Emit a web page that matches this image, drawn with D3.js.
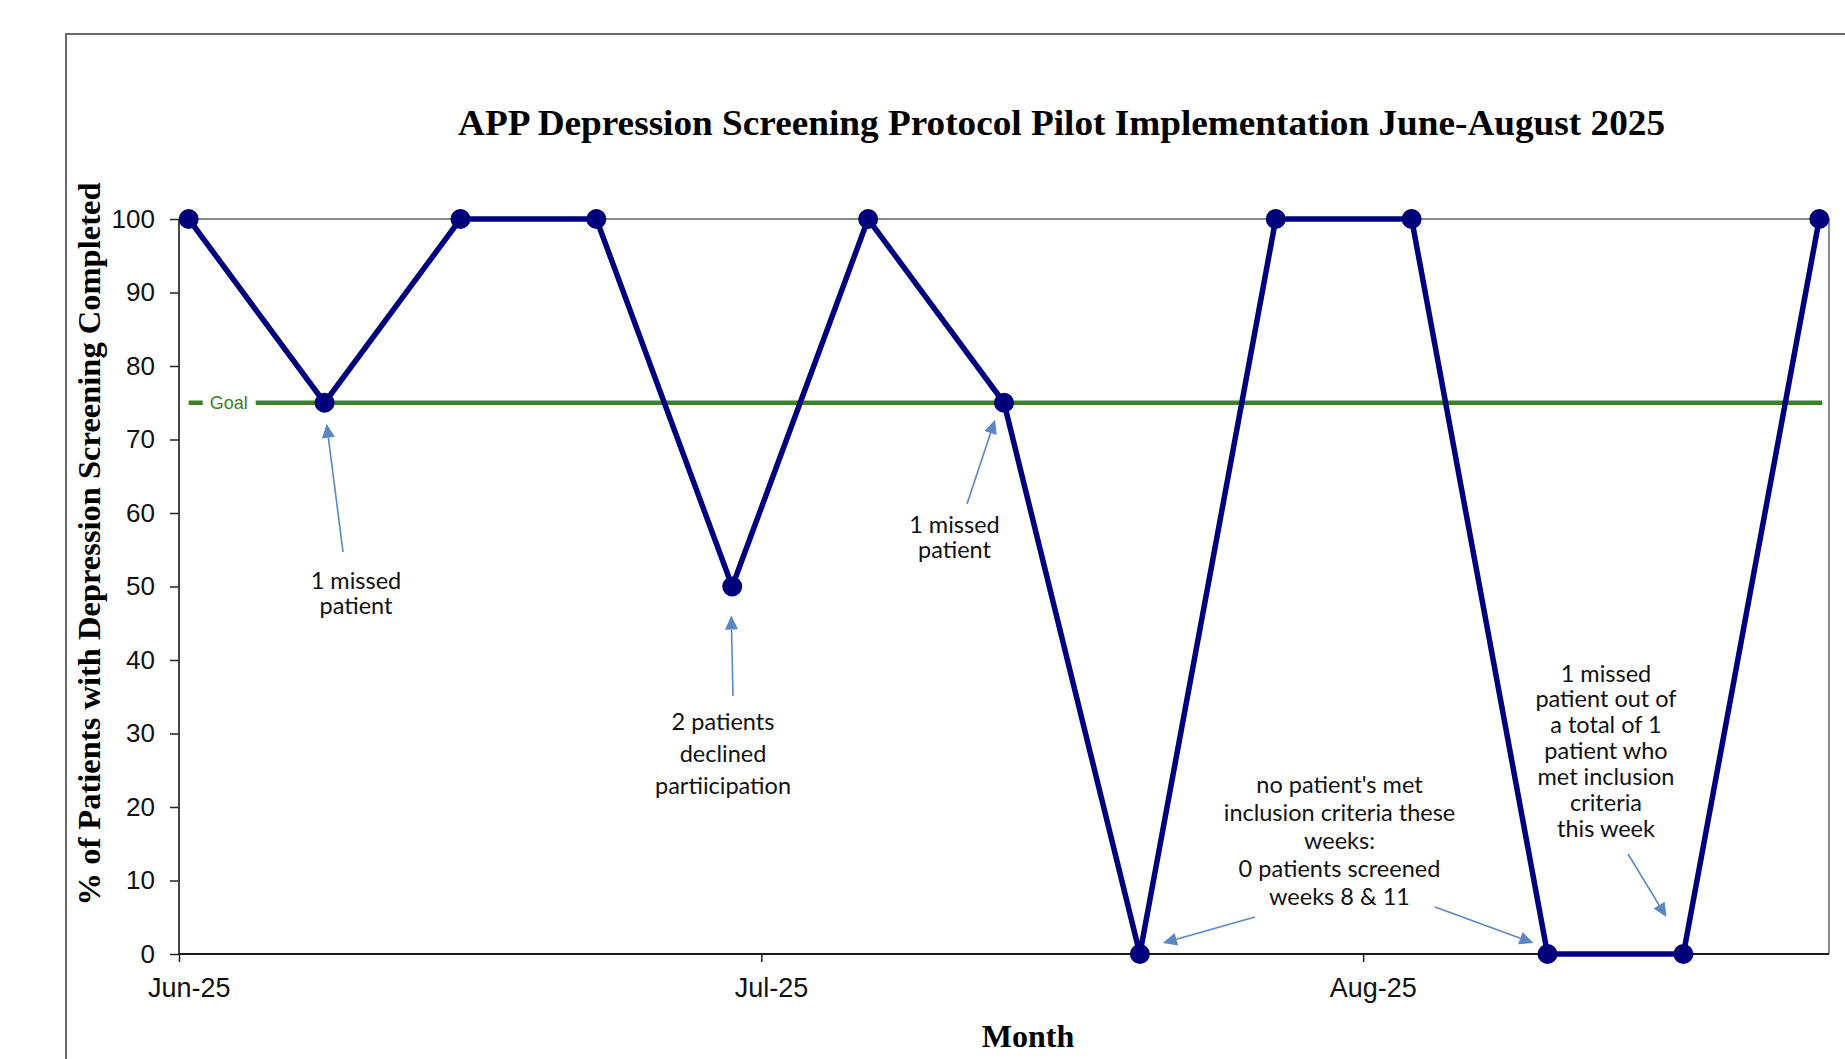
<!DOCTYPE html>
<html>
<head>
<meta charset="utf-8">
<script src="https://cdn.jsdelivr.net/npm/d3@7"></script>
<style>
  html, body { margin: 0; padding: 0; background: #fff; }
  svg { display: block; }
</style>
</head>
<body>
<svg id="chart" width="1845" height="1059"></svg>
<script>
// Weekly depression screening completion, APP pilot, June–August 2025
const weekStarts = [
  "2025-06-01", "2025-06-08", "2025-06-15", "2025-06-22", "2025-06-29",
  "2025-07-06", "2025-07-13", "2025-07-20", "2025-07-27",
  "2025-08-03", "2025-08-10", "2025-08-17", "2025-08-24"
];
const pctScreened = [100, 75, 100, 100, 50, 100, 75, 0, 100, 100, 0, 0, 100];
const goalPct = 75;
const yTickValues = [0, 10, 20, 30, 40, 50, 60, 70, 80, 90, 100];
const monthStarts = ["2025-06-01", "2025-07-01", "2025-08-01"];
const monthLabels = ["Jun-25", "Jul-25", "Aug-25"];

// Callout texts and the weeks they point at
const noteLines = [
  ["1 missed", "patient"],
  ["2 patients", "declined", "partiicipation"],
  ["1 missed", "patient"],
  ["no patient's met", "inclusion criteria these", "weeks:", "0 patients screened", "weeks 8 & 11"],
  ["1 missed", "patient out of", "a total of 1", "patient who", "met inclusion", "criteria", "this week"]
];
const noteTargets = [[1], [4], [6], [7, 10], [11]];

// Callout placement (pixels): text centre, first baseline, line step, arrow tails and tip offsets
const noteLayout = [
  { x: 356, y: 589, step: 24.5, tails: [[343, 552]], tips: [[2, 21]] },
  { x: 723, y: 730, step: 32, tails: [[733, 696]], tips: [[-1, 29]] },
  { x: 954.5, y: 533, step: 24.5, tails: [[967, 504]], tips: [[-9, 17]] },
  { x: 1339.5, y: 793, step: 28, tails: [[1255, 917], [1435, 907]], tips: [[23, -11], [-14, -11]] },
  { x: 1606, y: 681.5, step: 25.9, tails: [[1628, 854]], tips: [[-17, -37]] }
];

const svg = d3.select("#chart");
const parse = d3.utcParse("%Y-%m-%d");
const dayMs = 864e5;
const plot = { left: 179, right: 1829, top: 219, bottom: 954 };

const x = d3.scaleUtc()
  .domain([parse("2025-06-01"), parse("2025-08-25")])
  .range([plot.left, plot.right]);
const y = d3.scaleLinear().domain([0, 100]).range([plot.bottom, plot.top]);

// Each week's value sits in the middle of its day slot
const pts = weekStarts.map((d, i) => ({
  date: new Date(parse(d).getTime() + dayMs / 2),
  v: pctScreened[i]
}));
const px = d => x(d.date);
const py = d => y(d.v);

// Outer chart frame
svg.append("rect")
  .attr("x", 66).attr("y", 34)
  .attr("width", 1900).attr("height", 1100)
  .attr("fill", "none").attr("stroke", "#6b6b6b").attr("stroke-width", 2);

// Plot-area border: top and right edges
svg.append("path")
  .attr("d", `M${plot.left},${y(100)}H${plot.right}V${plot.bottom}`)
  .attr("fill", "none").attr("stroke", "#8c8c8c").attr("stroke-width", 2);

// Goal line with inline label
const goalY = y(goalPct);
const goalX0 = px(pts[0]);
const goalX1 = px(pts[pts.length - 1]) + 3;
svg.append("line")
  .attr("x1", goalX0).attr("x2", goalX1)
  .attr("y1", goalY).attr("y2", goalY)
  .attr("stroke", "#3b8128").attr("stroke-width", 4.5);
svg.append("rect")
  .attr("x", goalX0 + 14).attr("y", goalY - 10)
  .attr("width", 53).attr("height", 20)
  .attr("fill", "#fff");
svg.append("text")
  .attr("x", goalX0 + 21).attr("y", goalY + 6.5)
  .attr("font-family", "'Liberation Sans', Arial, sans-serif")
  .attr("font-size", 18)
  .attr("fill", "#3b8128")
  .text("Goal");

// Axes
const yAxis = d3.axisLeft(y).tickValues(yTickValues).tickSize(9).tickPadding(15);
const gy = svg.append("g").attr("transform", `translate(${plot.left},0)`).call(yAxis);
gy.select(".domain").remove();
gy.selectAll(".tick line").attr("stroke", "#222").attr("stroke-width", 1.5);
gy.selectAll(".tick text")
  .attr("font-family", "'Liberation Sans', Arial, sans-serif")
  .attr("font-size", 26).attr("fill", "#111");

const halfDay = x(new Date(parse(monthStarts[0]).getTime() + dayMs / 2)) - x(parse(monthStarts[0]));
const xAxis = d3.axisBottom(x)
  .tickValues(monthStarts.map(parse))
  .tickSize(8)
  .tickFormat((d, i) => monthLabels[i]);
const gx = svg.append("g").attr("transform", `translate(0,${plot.bottom})`).call(xAxis);
gx.select(".domain").remove();
gx.selectAll(".tick line").attr("stroke", "#222").attr("stroke-width", 1.5);
gx.selectAll(".tick text")
  .attr("x", halfDay).attr("y", 43).attr("dy", 0)
  .attr("font-family", "'Liberation Sans', Arial, sans-serif")
  .attr("font-size", 27).attr("fill", "#111");

svg.append("line")
  .attr("x1", plot.left).attr("x2", plot.left)
  .attr("y1", plot.top).attr("y2", plot.bottom)
  .attr("stroke", "#333").attr("stroke-width", 1.8);
svg.append("line")
  .attr("x1", plot.left).attr("x2", plot.right)
  .attr("y1", plot.bottom).attr("y2", plot.bottom)
  .attr("stroke", "#1a1a1a").attr("stroke-width", 2.2);

// Completion series
const line = d3.line().x(px).y(py);
svg.append("path")
  .datum(pts)
  .attr("d", line)
  .attr("fill", "none")
  .attr("stroke", "#00007f")
  .attr("stroke-width", 5.5)
  .attr("stroke-linejoin", "round");
svg.append("g").selectAll("circle")
  .data(pts)
  .join("circle")
  .attr("cx", px).attr("cy", py).attr("r", 10)
  .attr("fill", "#00007a");

// Callouts
const arrowColor = "#5b87c5";
const notesG = svg.append("g");
noteLines.forEach((lines, i) => {
  const L = noteLayout[i];
  const t = notesG.append("text")
    .attr("text-anchor", "middle")
    .attr("font-family", "Lato, 'Open Sans', sans-serif")
    .attr("font-size", 23.5)
    .attr("fill", "#111");
  lines.forEach((s, k) => {
    t.append("tspan").attr("x", L.x).attr("y", L.y + k * L.step).text(s);
  });
  noteTargets[i].forEach((w, k) => {
    const tip = [px(pts[w]) + L.tips[k][0], py(pts[w]) + L.tips[k][1]];
    const tail = L.tails[k];
    const ang = Math.atan2(tip[1] - tail[1], tip[0] - tail[0]);
    const len = 14, hw = 6.5;
    const base = [tip[0] - len * Math.cos(ang), tip[1] - len * Math.sin(ang)];
    notesG.append("line")
      .attr("x1", tail[0]).attr("y1", tail[1])
      .attr("x2", base[0]).attr("y2", base[1])
      .attr("stroke", arrowColor).attr("stroke-width", 1.6);
    const nx = -Math.sin(ang), ny = Math.cos(ang);
    notesG.append("path")
      .attr("d", `M${tip[0]},${tip[1]}L${base[0] + nx * hw},${base[1] + ny * hw}L${base[0] - nx * hw},${base[1] - ny * hw}Z`)
      .attr("fill", arrowColor);
  });
});

// Titles
svg.append("text")
  .attr("x", 1061.5).attr("y", 135)
  .attr("text-anchor", "middle")
  .attr("font-family", "'Liberation Serif', 'Times New Roman', serif")
  .attr("font-weight", "bold")
  .attr("font-size", 36.5)
  .attr("textLength", 1207)
  .attr("lengthAdjust", "spacingAndGlyphs")
  .attr("fill", "#000")
  .text("APP Depression Screening Protocol Pilot Implementation June-August 2025");

svg.append("text")
  .attr("transform", "translate(100,544) rotate(-90)")
  .attr("text-anchor", "middle")
  .attr("font-family", "'Liberation Serif', 'Times New Roman', serif")
  .attr("font-weight", "bold")
  .attr("font-size", 32)
  .attr("textLength", 723)
  .attr("lengthAdjust", "spacingAndGlyphs")
  .attr("fill", "#000")
  .text("% of Patients with Depression Screening Completed");

svg.append("text")
  .attr("x", 1028).attr("y", 1047)
  .attr("text-anchor", "middle")
  .attr("font-family", "'Liberation Serif', 'Times New Roman', serif")
  .attr("font-weight", "bold")
  .attr("font-size", 32)
  .attr("fill", "#000")
  .text("Month");
</script>
</body>
</html>
